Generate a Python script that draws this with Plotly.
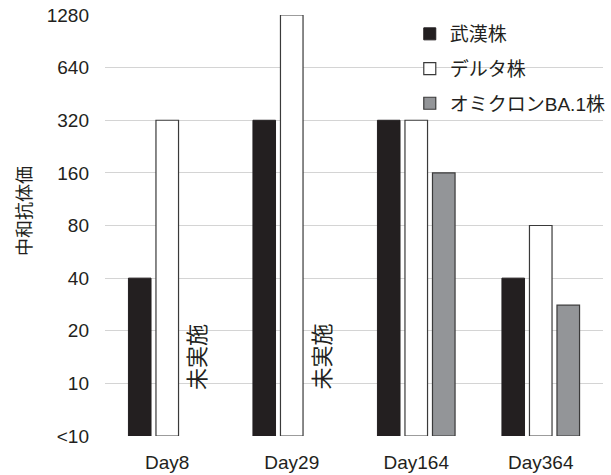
import plotly.graph_objects as go

categories = ["Day8", "Day29", "Day164", "Day364"]
wuhan = [40, 320, 320, 40]
delta = [320, 1280, 320, 80]
omicron = [None, None, 160, 28]
series_names = ["武漢株", "デルタ株", "オミクロンBA.1株"]
tick_vals = [5, 10, 20, 40, 80, 160, 320, 640, 1280]
tick_text = ["<10", "10", "20", "40", "80", "160", "320", "640", "1280"]
not_done_label = "未実施"
not_done_days = ["Day8", "Day29"]
y_title = "中和抗体価"
floor_value = 5

FONT = "Liberation Sans, Noto Sans CJK JP, sans-serif"
TXT = "#231f20"

def lengths(vals):
    return [None if v is None else v - floor_value for v in vals]

fig = go.Figure()
styles = [
    dict(color="#231f20", line=dict(color="#231f20", width=1)),
    dict(color="#ffffff", line=dict(color="#3a3a3a", width=1.2)),
    dict(color="#939598", line=dict(color="#3a3a3a", width=1.2)),
]
for name, vals, st in zip(series_names, [wuhan, delta, omicron], styles):
    fig.add_trace(go.Bar(
        x=categories, y=lengths(vals), base=floor_value, name=name,
        marker=st, legendgroup=name,
    ))

for d in not_done_days:
    fig.add_annotation(
        x=d, xref="x", xshift=31, y=0.105, yref="paper",
        text=not_done_label, textangle=-90, showarrow=False,
        font=dict(family=FONT, size=22, color=TXT),
    )

fig.add_annotation(
    x=-0.161, xref="paper", y=0.534, yref="paper", xanchor="center",
    text=y_title, textangle=-90, showarrow=False,
    font=dict(family=FONT, size=18, color=TXT),
)

fig.update_layout(
    width=611, height=475,
    margin=dict(l=105, r=8, t=15, b=39, autoexpand=False),
    paper_bgcolor="white", plot_bgcolor="white",
    barmode="group", bargap=0.337, bargroupgap=0.18,
    font=dict(family=FONT, size=19, color=TXT),
    legend=dict(
        x=0.612, y=1.0, xanchor="left", yanchor="top",
        bgcolor="rgba(0,0,0,0)", tracegroupgap=7,
        font=dict(family=FONT, size=19, color=TXT),
    ),
    xaxis=dict(showline=False, ticks="", tickfont=dict(size=19)),
    yaxis=dict(
        type="log", range=[0.69897, 3.10721],
        tickvals=tick_vals, ticktext=tick_text,
        showgrid=True, gridcolor="#d4d4d4", gridwidth=1,
        zeroline=False, showline=False, ticks="",
        ticklabelstandoff=15, tickfont=dict(size=19),
    ),
)
fig.update_xaxes(ticklabelstandoff=13)

fig.write_html("out.html")
